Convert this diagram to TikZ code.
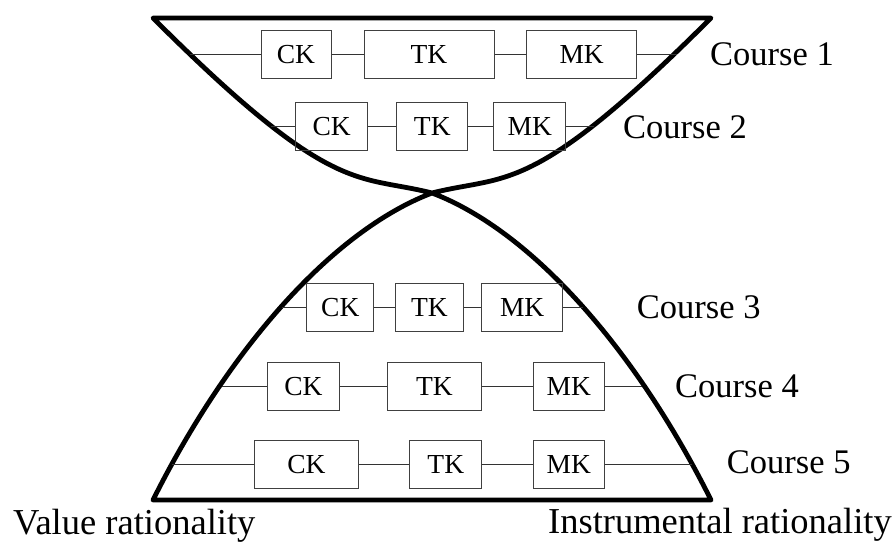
\documentclass[tikz,border=0pt]{standalone}
\usepackage{fontspec}
\setmainfont{Liberation Serif}
\begin{document}
\begin{tikzpicture}[x=1pt,y=-1pt,
  kbox/.style={draw=black!75,line width=1pt,minimum height=48pt,inner sep=0pt,font=\fontsize{27.5}{27.5}\selectfont},
  rowline/.style={draw=black!80,line width=1pt},
  thickline/.style={line width=4.8pt,line join=round,line cap=round},
  lbl/.style={anchor=base west,inner sep=0pt,font=\fontsize{34.5}{34.5}\selectfont},
  blbl/.style={inner sep=0pt,font=\fontsize{36.5}{36.5}\selectfont}]
\useasboundingbox (0,0) rectangle (895,544);
% hourglass outline
\coordinate (X) at (432,193);
\draw[thickline] (153,18) -- (711,18)
  .. controls (531,198) and (507,174) .. (X)
  .. controls (332,231) and (228,350) .. (153,500)
  -- (711,500)
  .. controls (636,350) and (532,231) .. (X)
  .. controls (357,174) and (333,198) .. (153,18)
  -- cycle;
% Course 1
\node[kbox,minimum width=70pt] (ck1) at (296,54.7) {CK};
\node[kbox,minimum width=130pt] (tk1) at (429,54.7) {TK};
\node[kbox,minimum width=110pt] (mk1) at (581.7,54.7) {MK};
\coordinate (l1) at (190,54.7);
\coordinate (r1) at (676.7,54.7);
\draw[rowline] (l1) -- (ck1) (ck1) -- (tk1) (tk1) -- (mk1) (mk1) -- (r1);
\node[lbl] (c1) at (710,65) {Course 1};
% Course 2
\node[kbox,minimum width=71.3pt] (ck2) at (331.6,126.7) {CK};
\node[kbox,minimum width=71.3pt] (tk2) at (432.3,126.7) {TK};
\node[kbox,minimum width=71.7pt] (mk2) at (529.8,126.7) {MK};
\coordinate (l2) at (271,126.7);
\coordinate (r2) at (594,126.7);
\draw[rowline] (l2) -- (ck2) (ck2) -- (tk2) (tk2) -- (mk2) (mk2) -- (r2);
\node[lbl] (c2) at (623,138) {Course 2};
% Course 3
\node[kbox,minimum width=67.3pt] (ck3) at (340.3,307.5) {CK};
\node[kbox,minimum width=67.6pt] (tk3) at (429.5,307.5) {TK};
\node[kbox,minimum width=81pt] (mk3) at (522.2,307.5) {MK};
\coordinate (l3) at (281.7,307.5);
\coordinate (r3) at (583.3,307.5);
\draw[rowline] (l3) -- (ck3) (ck3) -- (tk3) (tk3) -- (mk3) (mk3) -- (r3);
\node[lbl] (c3) at (636.7,318) {Course 3};
% Course 4
\node[kbox,minimum width=71.3pt] (ck4) at (303.4,386.3) {CK};
\node[kbox,minimum width=94.4pt] (tk4) at (434.5,386.3) {TK};
\node[kbox,minimum width=71pt] (mk4) at (568.8,386.3) {MK};
\coordinate (l4) at (221.7,386.3);
\coordinate (r4) at (641.7,386.3);
\draw[rowline] (l4) -- (ck4) (ck4) -- (tk4) (tk4) -- (mk4) (mk4) -- (r4);
\node[lbl] (c4) at (675,397) {Course 4};
% Course 5
\node[kbox,minimum width=103.6pt] (ck5) at (306.5,464.5) {CK};
\node[kbox,minimum width=71.7pt] (tk5) at (445.8,464.5) {TK};
\node[kbox,minimum width=71pt] (mk5) at (568.8,464.5) {MK};
\coordinate (l5) at (171.7,464.5);
\coordinate (r5) at (691.7,464.5);
\draw[rowline] (l5) -- (ck5) (ck5) -- (tk5) (tk5) -- (mk5) (mk5) -- (r5);
\node[lbl] (c5) at (726.7,473) {Course 5};
% bottom labels
\node[blbl,anchor=base west] (vr) at (13,534) {Value rationality};
\node[blbl,anchor=base east] (ir) at (892,533) {Instrumental rationality};
\end{tikzpicture}
\end{document}
